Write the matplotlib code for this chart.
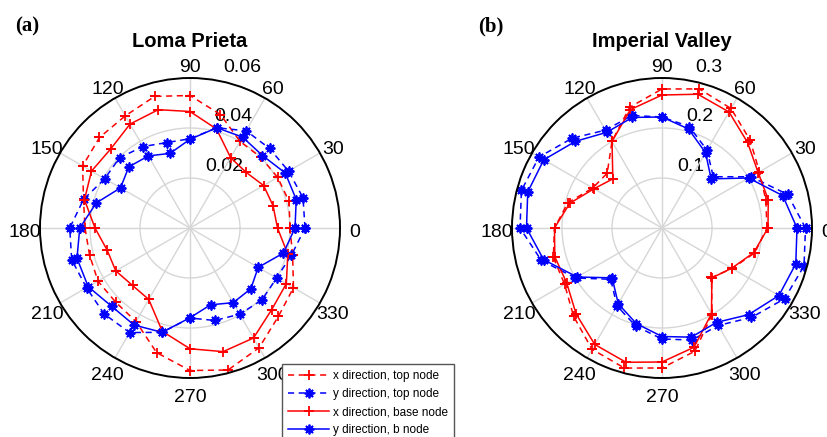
import numpy as np
import matplotlib.pyplot as plt
from matplotlib.transforms import offset_copy

plt.rcParams['font.family'] = ['Liberation Sans', 'DejaVu Sans']

# response direction, every 15 degrees starting at 0
angles_deg = np.arange(0, 360, 15)
theta_ticks = np.arange(0, 360, 30)

# Loma Prieta
lp_x_top = [0.040, 0.041, 0.0405, 0.040, 0.040, 0.047, 0.053, 0.0545, 0.0518, 0.0512, 0.0496, 0.0441,
            0.042, 0.0416, 0.0425, 0.042, 0.0432, 0.0516, 0.057, 0.0588, 0.0553, 0.050, 0.0478, 0.0425]
lp_y_top = [0.046, 0.0468, 0.0455, 0.045, 0.0449, 0.0415, 0.0357, 0.0354, 0.0376, 0.0398, 0.0394, 0.0441,
            0.0481, 0.049, 0.0478, 0.0486, 0.0483, 0.0432, 0.036, 0.0383, 0.0398, 0.0407, 0.040, 0.042]
lp_x_base = [0.035, 0.0344, 0.034, 0.0316, 0.0325, 0.041, 0.0466, 0.049, 0.048, 0.0448, 0.0455, 0.0437,
             0.038, 0.0343, 0.0343, 0.0325, 0.033, 0.0428, 0.0483, 0.0512, 0.0508, 0.0462, 0.0445, 0.0405]
lp_y_base = [0.042, 0.044, 0.044, 0.041, 0.042, 0.0415, 0.0355, 0.0309, 0.0333, 0.0346, 0.0321, 0.0388,
             0.0441, 0.0468, 0.047, 0.0443, 0.0448, 0.0432, 0.0359, 0.0318, 0.0345, 0.0344, 0.0315, 0.0387]
lp_rticks = [0.02, 0.04, 0.06]
lp_rlabels = ['0.02', '0.04', '0.06']

# Imperial Valley
iv_x_top = [0.21, 0.215, 0.225, 0.249, 0.276, 0.288, 0.278, 0.25, 0.2, 0.155, 0.16, 0.195,
            0.215, 0.225, 0.225, 0.25, 0.28, 0.29, 0.28, 0.255, 0.2, 0.14, 0.162, 0.192]
iv_y_top = [0.287, 0.26, 0.205, 0.145, 0.18, 0.21, 0.222, 0.233, 0.226, 0.254, 0.284, 0.291,
            0.284, 0.25, 0.2, 0.145, 0.18, 0.203, 0.222, 0.232, 0.225, 0.253, 0.283, 0.294]
iv_x_base = [0.212, 0.22, 0.222, 0.242, 0.268, 0.277, 0.266, 0.245, 0.2, 0.139, 0.157, 0.191,
             0.215, 0.222, 0.22, 0.243, 0.269, 0.278, 0.268, 0.247, 0.198, 0.141, 0.161, 0.19]
iv_y_base = [0.27, 0.25, 0.2, 0.139, 0.174, 0.205, 0.222, 0.229, 0.221, 0.245, 0.273, 0.278,
             0.271, 0.245, 0.196, 0.141, 0.175, 0.198, 0.217, 0.226, 0.218, 0.245, 0.27, 0.277]
iv_rticks = [0.1, 0.2, 0.3]
iv_rlabels = ['0.1', '0.2', '0.3']

series_labels = ['x direction, top node', 'y direction, top node',
                 'x direction, base node', 'y direction, b node']

asterisk = (8, 2, 0)
styles = [
    dict(color='red', ls='--', marker='+'),
    dict(color='blue', ls='--', marker=asterisk),
    dict(color='red', ls='-', marker='+'),
    dict(color='blue', ls='-', marker=asterisk),
]


def closed(vals):
    return np.append(vals, vals[0])


def polar_panel(ax, series, rticks, rlabels, title):
    th = np.deg2rad(closed(angles_deg))
    lines = []
    for vals, st, lab in zip(series, styles, series_labels):
        ln, = ax.plot(th, closed(vals), lw=1.1, ms=7, mew=1.3, label=lab, **st)
        if st['ls'] == '--':
            ln.set_dashes((4, 3))
        lines.append(ln)
    rmax = rticks[-1]
    ax.set_ylim(0, rmax)
    ax.set_yticks(rticks)
    ax.set_yticklabels([])
    ax.set_thetagrids(theta_ticks, [''] * len(theta_ticks))
    ax.grid(True, color='#d6d6d6', lw=1)
    ax.spines['polar'].set_linewidth(1.4)

    # angle labels sit on a ring just outside the frame
    tr_theta = offset_copy(ax.transData, fig=ax.figure, x=0, y=-3, units='points')
    for t in theta_ticks:
        ax.text(np.deg2rad(t), rmax * 1.1, str(t), transform=tr_theta,
                ha='center', va='center', fontsize=14)

    tr_r = offset_copy(ax.transData, fig=ax.figure, x=5, y=3, units='points')
    for t, s in zip(rticks, rlabels):
        ax.text(np.deg2rad(80), t, s, transform=tr_r, ha='left', va='bottom',
                fontsize=14, zorder=1)
    ax.set_title(title, fontsize=14.5, fontweight='bold', y=1.103, pad=0)
    return lines


fig = plt.figure(figsize=(8.27, 4.37), dpi=100)
ax_a = fig.add_axes([40 / 827, 59 / 437, 300 / 827, 300 / 437], projection='polar')
ax_b = fig.add_axes([512 / 827, 59 / 437, 300 / 827, 300 / 437], projection='polar')

lines = polar_panel(ax_a, [lp_x_top, lp_y_top, lp_x_base, lp_y_base],
                    lp_rticks, lp_rlabels, 'Loma Prieta')
polar_panel(ax_b, [iv_x_top, iv_y_top, iv_x_base, iv_y_base],
            iv_rticks, iv_rlabels, 'Imperial Valley')

fig.text(15 / 827, 1 - 31 / 437, '(a)', family='Liberation Serif', fontweight='bold',
         fontsize=15, va='baseline')
fig.text(478 / 827, 1 - 31 / 437, '(b)', family='Liberation Serif', fontweight='bold',
         fontsize=15, va='baseline')

fig.legend(handles=lines, loc='upper left', bbox_to_anchor=(282 / 827, 1 - 364 / 437),
           fontsize=8.5, frameon=True, fancybox=False, edgecolor='#555555', framealpha=1,
           handlelength=3.5, handletextpad=0.3, labelspacing=0.52, borderpad=0.5,
           borderaxespad=0)

fig.savefig('out.png', dpi=100)
